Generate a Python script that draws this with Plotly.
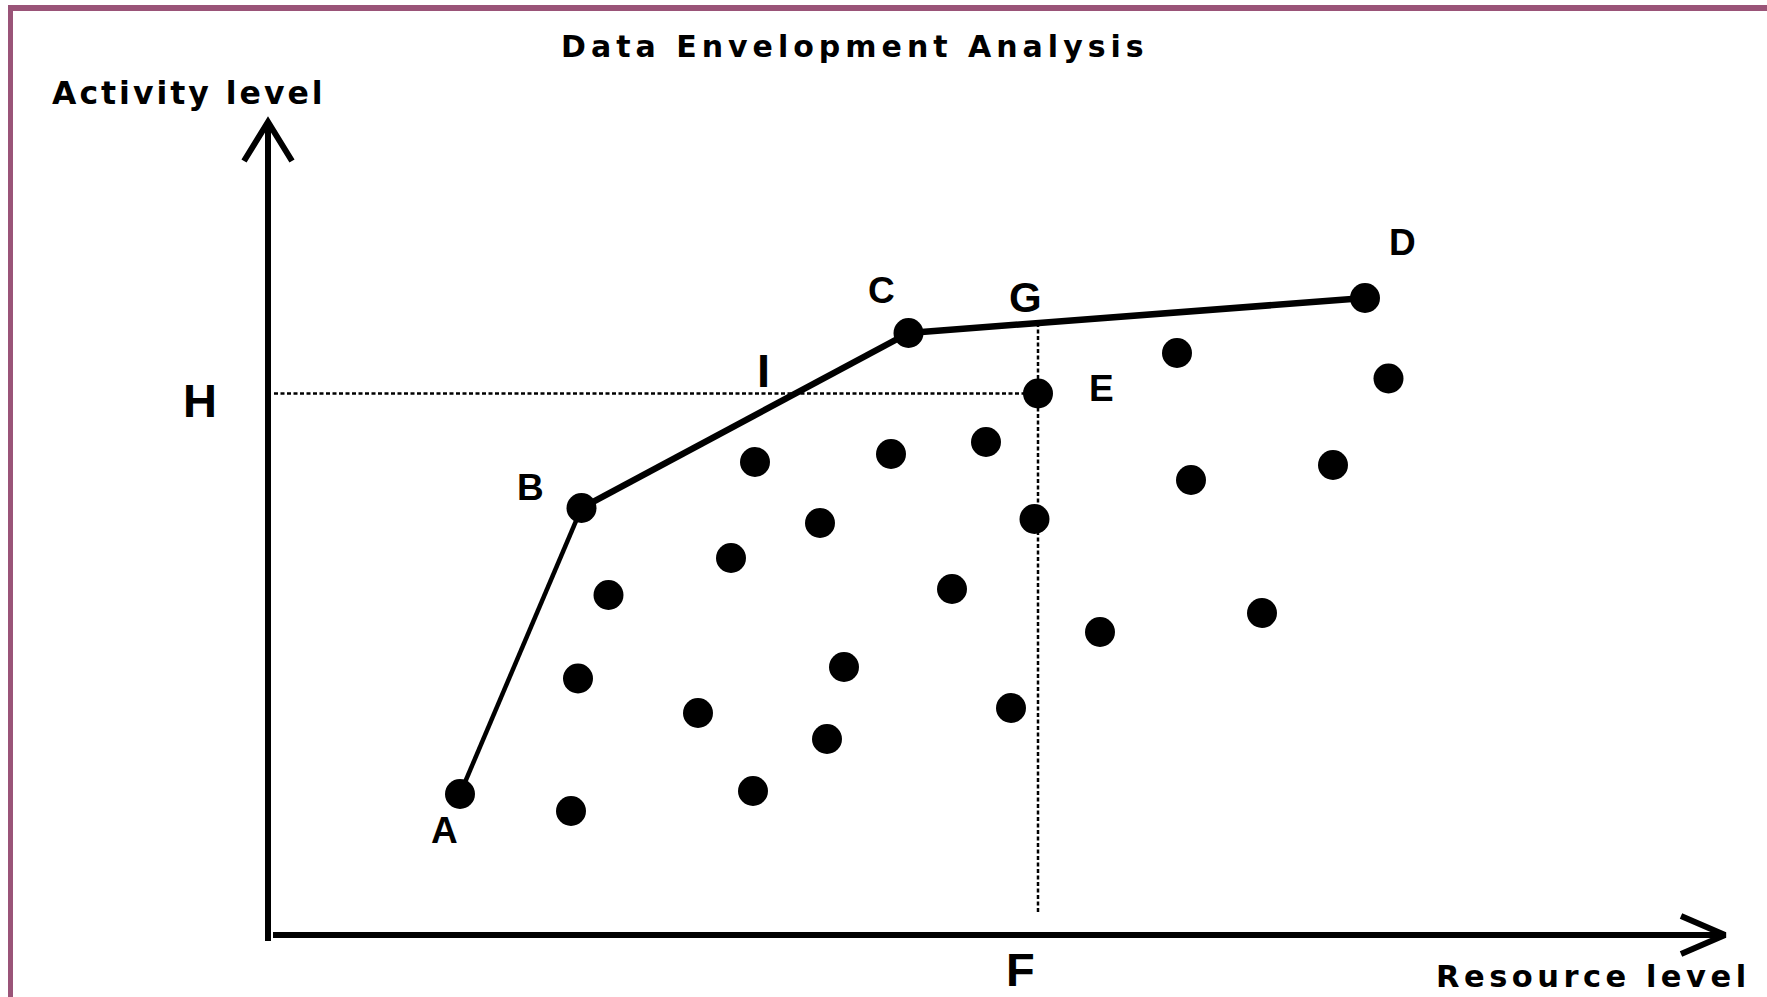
import numpy as np
import plotly.graph_objects as go

# ---------------- data (arbitrary units: resource level, activity level) ----------------
frontier_names = ["A", "B", "C", "D"]
frontier_x = [19.2, 31.35, 64.05, 109.7]
frontier_y = [14.1, 42.7, 60.2, 63.7]
frontier_widths = [4.5, 6.5, 6.5]

unit_e = {"x": 77.0, "y": 54.15}

other_x = [30.3, 48.5, 55.9, 43.0, 31.0, 57.6, 74.3, 34.05, 46.3, 55.2, 48.7, 62.3, 71.8,
           76.65, 68.4, 83.2, 99.4, 92.3, 90.9, 106.5, 112.05]
other_y = [12.4, 14.4, 19.6, 22.2, 25.65, 26.8, 22.7, 34.0, 37.7, 41.2, 47.3, 48.1, 49.3,
           41.6, 34.6, 30.3, 32.2, 45.5, 58.2, 47.0, 55.65]

# axes drawn as arrows
yaxis_x = [0, 0]
yaxis_y = [-0.6, 81.2]
yarrow_x = [-2.4, 0, 2.4]
yarrow_y = [77.4, 81.3, 77.4]
xaxis_x = [0.5, 145.6]
xaxis_y = [0, 0]
xarrow_x = [141.3, 145.7, 141.3]
xarrow_y = [1.9, 0, -1.9]

title_text = "Data Envelopment Analysis"
ylabel_text = "Activity level"
xlabel_text = "Resource level"

# label texts and anchor points (units)
point_labels = ["A", "B", "C", "G", "E", "D"]
point_label_x = [17.6, 26.2, 61.3, 75.7, 83.3, 113.4]
point_label_y = [10.5, 44.8, 64.5, 63.8, 54.7, 69.3]
point_label_size = [37, 37, 37, 42, 37, 37]

guide_labels = ["H", "I", "F"]
guide_label_x = [-6.85, 49.5, 75.2]
guide_label_y = [53.5, 56.5, -3.4]

dotted_bottom_y = 2.2
dotted_left_x = 0.6

# ---------------- figure ----------------
W, H = 1767, 997
x_range = [-26.8, 149.9]
y_range = [-6.2, 93.5]

fig = go.Figure()

black = "#000000"
FONT = "Liberation Sans, Arial, sans-serif"
WIDE = "DejaVu Sans, Liberation Sans, sans-serif"

# G: where the vertical through E meets the frontier
g_y = float(np.interp(unit_e["x"], frontier_x, frontier_y))

# dotted guides
fig.add_trace(go.Scatter(x=[dotted_left_x, unit_e["x"]], y=[unit_e["y"], unit_e["y"]],
                         mode="lines", line=dict(color=black, width=2.5, dash="4px,2.5px"),
                         hoverinfo="skip", showlegend=False))
fig.add_trace(go.Scatter(x=[unit_e["x"], unit_e["x"]], y=[g_y, dotted_bottom_y],
                         mode="lines", line=dict(color=black, width=2.5, dash="4px,2.5px"),
                         hoverinfo="skip", showlegend=False))

# axes
for xs, ys in [(yaxis_x, yaxis_y), (yarrow_x, yarrow_y), (xaxis_x, xaxis_y), (xarrow_x, xarrow_y)]:
    fig.add_trace(go.Scatter(x=xs, y=ys, mode="lines",
                             line=dict(color=black, width=6),
                             hoverinfo="skip", showlegend=False))

# frontier segments
for i in range(len(frontier_x) - 1):
    fig.add_trace(go.Scatter(x=frontier_x[i:i + 2], y=frontier_y[i:i + 2], mode="lines",
                             line=dict(color=black, width=frontier_widths[i]),
                             hoverinfo="skip", showlegend=False))

# points
fig.add_trace(go.Scatter(x=frontier_x + [unit_e["x"]] + other_x,
                         y=frontier_y + [unit_e["y"]] + other_y,
                         mode="markers",
                         marker=dict(color=black, size=30, line=dict(width=0)),
                         hoverinfo="skip", showlegend=False))

annotations = []
for t, x, y, s in zip(point_labels, point_label_x, point_label_y, point_label_size):
    annotations.append(dict(x=x, y=y, text="<b>%s</b>" % t, showarrow=False,
                            xanchor="center", yanchor="middle",
                            font=dict(family=FONT, size=s, color=black)))
for t, x, y in zip(guide_labels, guide_label_x, guide_label_y):
    annotations.append(dict(x=x, y=y, text="<b>%s</b>" % t, showarrow=False,
                            xanchor="center", yanchor="middle",
                            font=dict(family=FONT, size=47, color=black)))

annotations.append(dict(x=58.7, y=88.9, showarrow=False, xanchor="center", yanchor="middle",
                        text='<b><span style="letter-spacing:5px">%s</span></b>' % title_text,
                        font=dict(family=WIDE, size=30, color=black)))
annotations.append(dict(x=-21.8, y=84.2, showarrow=False, xanchor="left", yanchor="middle",
                        text='<b><span style="letter-spacing:3px">%s</span></b>' % ylabel_text,
                        font=dict(family=WIDE, size=31.5, color=black)))
annotations.append(dict(x=148.5, y=-4.1, showarrow=False, xanchor="right", yanchor="middle",
                        text='<b><span style="letter-spacing:4.5px">%s</span></b>' % xlabel_text,
                        font=dict(family=WIDE, size=30.5, color=black)))

border = "#9A5478"
shapes = [
    dict(type="line", xref="paper", yref="paper", x0=8 / W, x1=1.0, y0=1 - 8 / H, y1=1 - 8 / H,
         line=dict(color=border, width=6)),
    dict(type="line", xref="paper", yref="paper", x0=10.5 / W, x1=10.5 / W, y0=0, y1=1 - 5 / H,
         line=dict(color=border, width=5)),
]

fig.update_layout(
    width=W, height=H, autosize=False,
    margin=dict(l=0, r=0, t=0, b=0, pad=0),
    paper_bgcolor="white", plot_bgcolor="white",
    xaxis=dict(range=x_range, visible=False, fixedrange=True),
    yaxis=dict(range=y_range, visible=False, fixedrange=True),
    annotations=annotations, shapes=shapes,
    showlegend=False,
)

fig.write_html("out.html", config={"displayModeBar": False},
               post_script="document.body.style.margin='0';document.body.style.overflow='hidden';")
